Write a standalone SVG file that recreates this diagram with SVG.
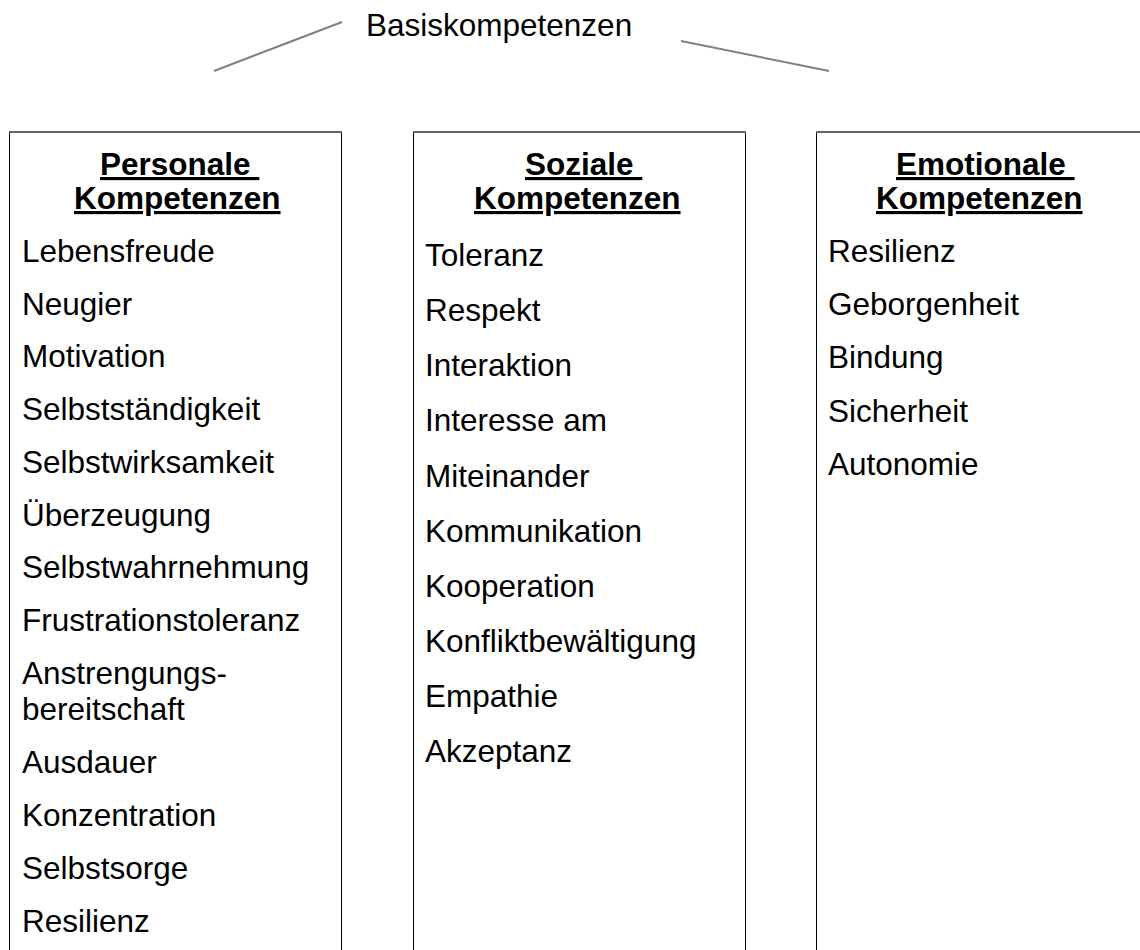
<svg xmlns="http://www.w3.org/2000/svg" width="1140" height="950" viewBox="0 0 1140 950">
<style>
.t{font-family:"Liberation Sans",Arial,sans-serif;font-size:31.5px;fill:#000}
.h{font-family:"Liberation Sans",Arial,sans-serif;font-size:31.5px;font-weight:bold;fill:#000;text-decoration:underline}
.box{fill:none;stroke:#000;stroke-width:1}
.top{stroke:#666;stroke-width:2}
.con{stroke:#808080;stroke-width:2;fill:none}
</style>
<rect x="0" y="0" width="1140" height="950" fill="#fff"/>
<g id="connectors">
<line class="con" x1="214" y1="71" x2="342" y2="22"/>
<line class="con" x1="681" y1="41" x2="829" y2="71"/>
</g>
<g id="root">
<text class="t" x="366" y="36">Basiskompetenzen</text>
</g>
<g id="personal">
<path class="box" d="M9.5,950 V132 M341.5,132 V950"/>
<line class="top" x1="9" y1="132" x2="342" y2="132"/>
<text class="h" x="100" y="175" xml:space="preserve">Personale </text>
<text class="h" x="74" y="209">Kompetenzen</text>
<text class="t" x="22" y="262">Lebensfreude</text>
<text class="t" x="22" y="315">Neugier</text>
<text class="t" x="22" y="367">Motivation</text>
<text class="t" x="22" y="420">Selbstständigkeit</text>
<text class="t" x="22" y="473">Selbstwirksamkeit</text>
<text class="t" x="22" y="526">Überzeugung</text>
<text class="t" x="22" y="578">Selbstwahrnehmung</text>
<text class="t" x="22" y="631">Frustrationstoleranz</text>
<text class="t" x="22" y="684">Anstrengungs-</text>
<text class="t" x="22" y="720">bereitschaft</text>
<text class="t" x="22" y="773">Ausdauer</text>
<text class="t" x="22" y="826">Konzentration</text>
<text class="t" x="22" y="879">Selbstsorge</text>
<text class="t" x="22" y="932">Resilienz</text>
</g>
<g id="sozial">
<path class="box" d="M413.5,950 V132 M745.5,132 V950"/>
<line class="top" x1="413" y1="132" x2="746" y2="132"/>
<text class="h" x="525" y="175" xml:space="preserve">Soziale </text>
<text class="h" x="474" y="209">Kompetenzen</text>
<text class="t" x="425" y="266">Toleranz</text>
<text class="t" x="425" y="321">Respekt</text>
<text class="t" x="425" y="376">Interaktion</text>
<text class="t" x="425" y="431">Interesse am</text>
<text class="t" x="425" y="487">Miteinander</text>
<text class="t" x="425" y="542">Kommunikation</text>
<text class="t" x="425" y="597">Kooperation</text>
<text class="t" x="425" y="652">Konfliktbewältigung</text>
<text class="t" x="425" y="707">Empathie</text>
<text class="t" x="425" y="762">Akzeptanz</text>
</g>
<g id="emotional">
<path class="box" d="M816.5,950 V132"/>
<line class="top" x1="816" y1="132" x2="1148" y2="132"/>
<text class="h" x="896" y="175" xml:space="preserve">Emotionale </text>
<text class="h" x="876" y="209">Kompetenzen</text>
<text class="t" x="828" y="262">Resilienz</text>
<text class="t" x="828" y="315">Geborgenheit</text>
<text class="t" x="828" y="368">Bindung</text>
<text class="t" x="828" y="422">Sicherheit</text>
<text class="t" x="828" y="475">Autonomie</text>
</g>
</svg>
